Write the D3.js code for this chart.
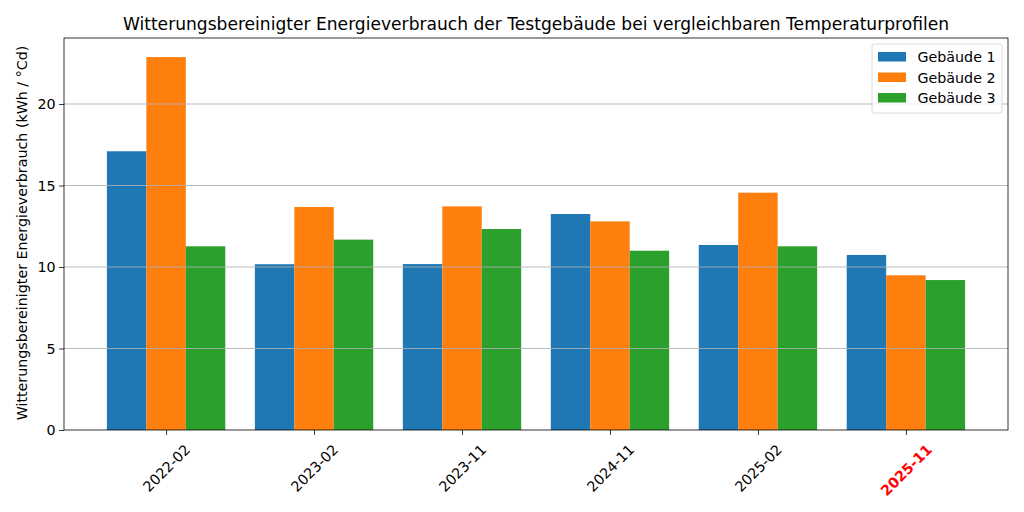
<!DOCTYPE html>
<html><head><meta charset="utf-8">
<script src="https://cdn.jsdelivr.net/npm/d3@7"></script>
<style>body{margin:0;background:#fff}svg{font-family:"DejaVu Sans",sans-serif}</style>
</head><body><svg id="c" width="1024" height="512"></svg>
<script>
const categories = ["2022-02","2023-02","2023-11","2024-11","2025-02","2025-11"];
const seriesNames = ["Gebäude 1","Gebäude 2","Gebäude 3"];
const gebaeude1 = [17.1, 10.17, 10.18, 13.25, 11.35, 10.74];
const gebaeude2 = [22.88, 13.68, 13.72, 12.8, 14.56, 9.49];
const gebaeude3 = [11.27, 11.68, 12.33, 11.0, 11.27, 9.2];
const yTicks = [0,5,10,15,20];
const colors = ["#1f77b4","#ff7f0e","#2ca02c"];
const series = [gebaeude1, gebaeude2, gebaeude3];

const FS = 14.25;
const svg = d3.select("#c");
const L=64, R=1008, T=38, B=430;
const x = d3.scaleLinear().domain([-0.69, categories.length-1+0.69]).range([L,R]);
const y = d3.scaleLinear().domain([0,24.05]).range([B,T]);
const bw = 0.8/3;

const g = svg.append("g");
series.forEach((s,si)=>{
  g.selectAll(null).data(s).enter().append("rect")
    .attr("x",(d,i)=>x(i-0.4+si*bw))
    .attr("width",x(bw)-x(0))
    .attr("y",d=>y(d))
    .attr("height",d=>y(0)-y(d))
    .attr("fill",colors[si]);
});
// grid (drawn above bars)
svg.append("g").selectAll("line").data(yTicks.filter(t=>t>0)).enter().append("line")
  .attr("x1",L).attr("x2",R).attr("y1",d=>y(d)).attr("y2",d=>y(d))
  .attr("stroke","#b0b0b0").attr("stroke-opacity",0.85).attr("stroke-width",1.1);

// axes
const yAxis = svg.append("g").attr("transform",`translate(${L},0)`)
  .call(d3.axisLeft(y).tickValues(yTicks).tickSize(4.9).tickPadding(3.5));
const xAxis = svg.append("g").attr("transform",`translate(0,${B})`)
  .call(d3.axisBottom(x).tickValues(d3.range(categories.length)).tickFormat(i=>categories[i]).tickSize(4.9).tickPadding(3.5));
[yAxis,xAxis].forEach(a=>{a.select(".domain").remove();a.selectAll("line").attr("stroke","#000").attr("stroke-width",0.8);
  a.selectAll("text").attr("font-size",FS).attr("fill","#000").attr("font-family","DejaVu Sans");});
// frame
svg.append("rect").attr("x",L).attr("y",T).attr("width",R-L).attr("height",B-T)
  .attr("fill","none").attr("stroke","#000").attr("stroke-width",0.8);

// rotate x labels
xAxis.selectAll(".tick text").each(function(d,i){
  const t=d3.select(this);
  if(i===categories.length-1) t.attr("fill","red").attr("font-weight","bold");
  t.attr("y",0).attr("dy",null).attr("text-anchor","middle").attr("dominant-baseline","central");
  const bb=this.getBBox();
  const w=bb.width, h=bb.height;
  const rb=(w+h)*Math.SQRT1_2;
  const cy=4.9+3.5+rb/2+3;
  t.attr("transform",`translate(0,${cy}) rotate(-45)`);
});

// title
svg.append("text").attr("x",(L+R)/2).attr("y",30).attr("text-anchor","middle")
  .attr("font-size",17.1).text("Witterungsbereinigter Energieverbrauch der Testgebäude bei vergleichbaren Temperaturprofilen");
// y label
svg.append("text").attr("transform",`translate(27,${(T+B)/2 - 1}) rotate(-90)`).attr("text-anchor","middle")
  .attr("font-size",FS).text("Witterungsbereinigter Energieverbrauch (kWh / °Cd)");

// legend
const lg = svg.append("g").attr("transform","translate(872,44)");
lg.append("rect").attr("width",130).attr("height",69).attr("rx",2.5).attr("fill","#fff").attr("fill-opacity",0.8)
  .attr("stroke","#d6d6d6").attr("stroke-width",0.9);
seriesNames.forEach((n,i)=>{
  lg.append("rect").attr("x",6).attr("y",8+i*20.5).attr("width",28).attr("height",9.5).attr("fill",colors[i]);
  lg.append("text").attr("x",45.5).attr("y",13+i*20.5).attr("dominant-baseline","central").attr("font-size",FS).text(n);
});
</script></body></html>
